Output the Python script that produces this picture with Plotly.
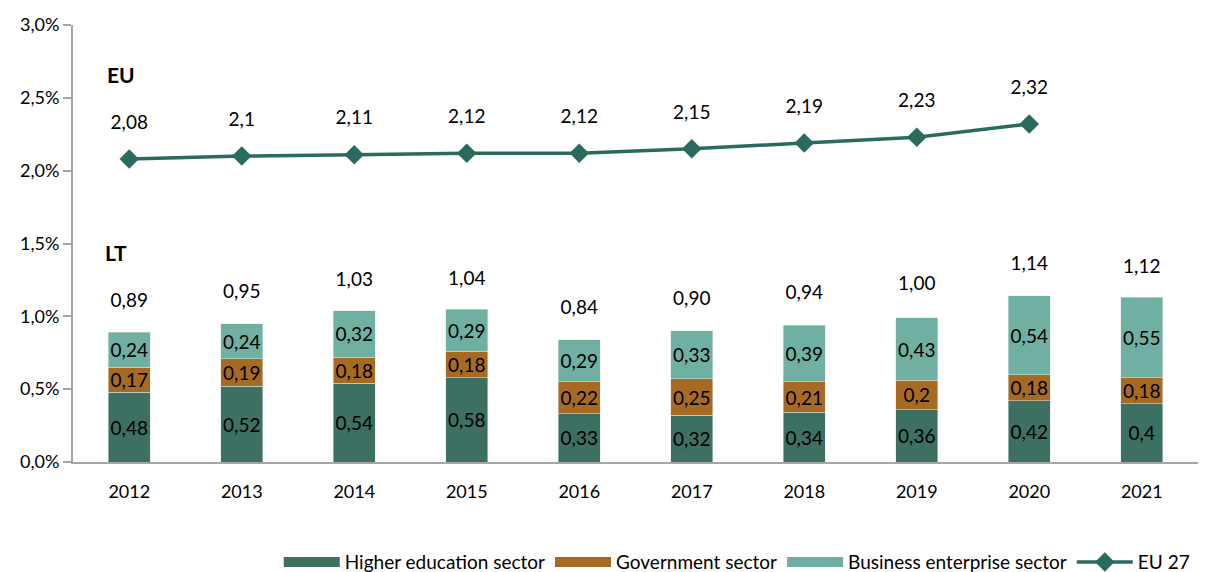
import plotly.graph_objects as go

years = ["2012", "2013", "2014", "2015", "2016", "2017", "2018", "2019", "2020", "2021"]
higher_edu = [0.48, 0.52, 0.54, 0.58, 0.33, 0.32, 0.34, 0.36, 0.42, 0.40]
government = [0.17, 0.19, 0.18, 0.18, 0.22, 0.25, 0.21, 0.20, 0.18, 0.18]
business = [0.24, 0.24, 0.32, 0.29, 0.29, 0.33, 0.39, 0.43, 0.54, 0.55]
lt_total = [0.89, 0.95, 1.03, 1.04, 0.84, 0.90, 0.94, 1.00, 1.14, 1.12]
eu_years = ["2012", "2013", "2014", "2015", "2016", "2017", "2018", "2019", "2020"]
eu27 = [2.08, 2.10, 2.11, 2.12, 2.12, 2.15, 2.19, 2.23, 2.32]

FONT = "Lato"
C_HE = "#3D6F62"
C_GOV = "#A66A22"
C_BUS = "#6FB0A2"
C_EU = "#2A6B5F"
LBL = 19


def fmt_g(v):
    return f"{v:g}".replace(".", ",")


def fmt_2(v):
    return f"{v:.2f}".replace(".", ",")


fig = go.Figure()
for name, vals, col in [("Higher education sector", higher_edu, C_HE),
                        ("Government sector", government, C_GOV),
                        ("Business enterprise sector", business, C_BUS)]:
    fig.add_trace(go.Bar(
        x=years, y=vals, name=name, legendgroup=name, showlegend=False,
        marker=dict(color=col, line=dict(width=0.5, color="#DDE9E6")),
        text=[fmt_g(v) for v in vals], textposition="inside", insidetextanchor="middle",
        textangle=0, constraintext="none",
        textfont=dict(family=FONT, size=LBL, color="black"),
        width=0.37, hoverinfo="skip",
    ))
    # legend swatch (wide rectangle like the original)
    fig.add_trace(go.Scatter(
        x=[None], y=[None], mode="lines", name=name, legendgroup=name,
        line=dict(color=col, width=12), hoverinfo="skip",
    ))

# LT totals above bars
fig.add_trace(go.Scatter(
    x=years, y=[v + 0.21 for v in lt_total], mode="text",
    text=[fmt_2(v) for v in lt_total], textfont=dict(family=FONT, size=LBL, color="black"),
    showlegend=False, hoverinfo="skip",
))

fig.add_trace(go.Scatter(
    x=eu_years, y=eu27, name="EU 27", mode="lines+markers",
    line=dict(color=C_EU, width=3.5),
    marker=dict(symbol="diamond", size=15, color=C_EU),
    hoverinfo="skip",
))
fig.add_trace(go.Scatter(
    x=eu_years, y=[v + 0.24 for v in eu27], mode="text",
    text=[fmt_g(v) for v in eu27], textfont=dict(family=FONT, size=LBL, color="black"),
    showlegend=False, hoverinfo="skip",
))

fig.add_annotation(x=0.028, y=2.66, xref="paper", yref="y", text="<b>EU</b>", showarrow=False,
                   font=dict(family=FONT, size=21, color="black"), xanchor="left")
fig.add_annotation(x=0.027, y=1.44, xref="paper", yref="y", text="<b>LT</b>", showarrow=False,
                   font=dict(family=FONT, size=21, color="black"), xanchor="left")

# page body has an 8px margin: figure sized so plot area sits where the original's does
fig.update_layout(
    barmode="stack",
    width=1205, height=564,
    margin=dict(l=65, r=15, t=17, b=110, autoexpand=False),
    plot_bgcolor="white", paper_bgcolor="white",
    separators=", ",
    font=dict(family=FONT, size=18, color="black"),
    legend=dict(orientation="h", x=0.59, xanchor="center", y=-0.229, yanchor="middle",
                font=dict(family=FONT, size=19, color="black"), traceorder="normal",
                itemwidth=56),
    xaxis=dict(showline=True, linecolor="#A6A6A6", linewidth=2, ticks="", showgrid=False,
               tickfont=dict(family=FONT, size=18), range=[-0.5, 9.5], ticklabelstandoff=12),
    yaxis=dict(range=[0, 3.0], dtick=0.5, tickformat=".1f", ticksuffix="%", showgrid=False,
               showline=True, linecolor="#A6A6A6", linewidth=2, ticks="outside", ticklen=8,
               tickcolor="#A6A6A6", tickwidth=2, zeroline=False,
               tickfont=dict(family=FONT, size=18)),
    showlegend=True,
)

fig.write_html("out.html")
